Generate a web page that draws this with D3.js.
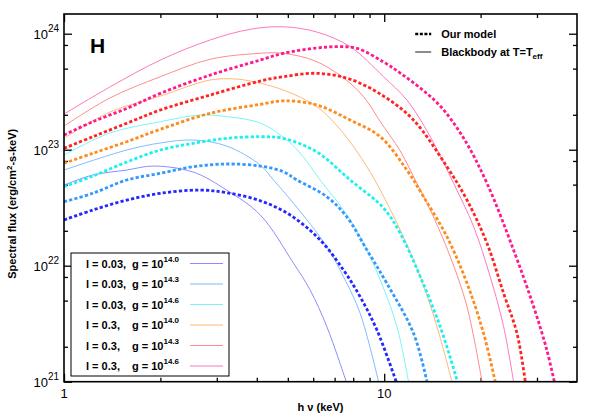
<!DOCTYPE html>
<html>
<head>
<meta charset="utf-8">
<script src="https://cdn.jsdelivr.net/npm/d3@7"></script>
<style>
  body { margin: 0; background: #fff; }
  svg { font-family: "Liberation Sans", Arial, sans-serif; }
  .frame { fill: none; stroke: #000; stroke-width: 1.6; }
  .axis path { display: none; }
  .axis line { stroke: #000; stroke-width: 1.3; }
  .bold { font-weight: bold; }
</style>
</head>
<body>
<script>
// values: [photon energy (keV), spectral flux]
var bb1 = [[1.00,4.96e22],[1.23,6.05e22],[1.57,6.68e22],[1.90,7.23e22],[2.53,6.42e22],[3.22,4.49e22],[4.10,2.74e22],[5.21,1.05e22],[5.87,6.17e21],[6.62,2.98e21],[7.61,1.0e21]];
var bb2 = [[1.00,6.68e22],[1.57,9.94e22],[2.00,1.143e23],[2.53,1.212e23],[3.22,1.076e23],[4.10,7.38e22],[4.51,5.48e22],[5.21,3.45e22],[6.62,1.458e22],[7.46,8.04e21],[8.41,3.89e21],[9.60,1.0e21]];
var bb3 = [[1.00,9.0e22],[1.39,1.393e23],[2.00,1.743e23],[2.66,1.99e23],[3.30,1.914e23],[4.10,1.70e23],[4.84,1.286e23],[5.46,9.37e22],[6.31,5.48e22],[7.46,3.02e22],[8.41,1.778e22],[9.72,7.53e21],[10.96,2.98e21],[11.91,1.0e21]];
var bb4 = [[1.00,1.254e23],[1.39,2.11e23],[2.00,2.90e23],[2.86,3.99e23],[3.42,4.07e23],[3.81,3.91e23],[4.84,3.27e23],[6.16,2.35e23],[7.46,1.384e23],[8.83,7.13e22],[9.72,4.49e22],[11.22,2.03e22],[12.96,8.04e21],[14.62,2.98e21],[16.28,1.0e21]];
var bb5 = [[1.00,1.60e23],[1.39,2.79e23],[2.00,4.26e23],[2.86,6.02e23],[4.10,6.78e23],[4.84,6.78e23],[6.16,5.74e23],[7.83,3.74e23],[8.83,2.63e23],[9.72,1.743e23],[11.22,9.75e22],[12.65,5.13e22],[13.93,3.02e22],[16.08,1.196e22],[18.14,4.43e21],[20.2,1.0e21]];
var bb6 = [[1.00,2.03e23],[1.39,3.47e23],[2.00,5.93e23],[2.86,8.83e23],[3.81,1.091e24],[4.84,1.148e24],[6.16,1.034e24],[7.83,7.73e23],[9.95,4.26e23],[11.77,2.68e23],[13.93,1.294e23],[16.47,5.13e22],[19.02,2.17e22],[21.43,8.04e21],[23.6,2.98e21],[25.35,1.0e21]];

var m1 = [[1.00,2.48e22],[1.23,3.02e22],[1.57,3.68e22],[2.00,4.21e22],[2.66,4.49e22],[3.22,4.26e22],[4.10,3.63e22],[5.08,2.74e22],[6.31,1.666e22],[7.46,9.18e21],[8.41,5.40e21],[9.49,2.79e21],[10.9,1.0e21]];
var m2 = [[1.00,3.56e22],[1.23,4.21e22],[1.57,5.48e22],[2.00,6.26e22],[2.53,7.13e22],[3.22,7.53e22],[4.10,7.23e22],[4.84,6.46e22],[5.34,5.48e22],[6.62,3.93e22],[7.64,2.64e22],[8.83,1.366e22],[10.19,7.05e21],[12.35,2.61e21],[13.60,1.0e21]];
var m3 = [[1.00,4.80e22],[1.23,5.93e22],[1.57,7.83e22],[2.00,9.94e22],[2.53,1.135e23],[3.22,1.254e23],[4.10,1.294e23],[4.84,1.254e23],[6.16,9.55e22],[7.83,5.48e22],[9.95,3.14e22],[11.22,1.90e22],[12.96,8.04e21],[14.96,2.98e21],[16.94,1.0e21]];
var m4 = [[1.00,7.64e22],[1.23,9.31e22],[1.57,1.172e23],[2.00,1.50e23],[2.86,2.06e23],[4.10,2.46e23],[4.84,2.64e23],[6.16,2.43e23],[7.83,1.80e23],[9.72,1.294e23],[11.77,6.68e22],[13.27,3.93e22],[15.70,1.778e22],[18.14,7.05e21],[20.43,2.61e21],[22.22,1.0e21]];
var m5 = [[1.00,1.028e23],[1.23,1.294e23],[1.57,1.689e23],[2.00,2.20e23],[2.86,2.96e23],[4.10,3.91e23],[4.84,4.26e23],[6.16,4.56e23],[7.83,4.05e23],[9.95,2.90e23],[12.35,1.80e23],[15.70,7.13e22],[18.14,3.68e22],[20.94,1.56e22],[23.6,5.78e21],[25.98,2.61e21],[27.58,1.0e21]];
var m6 = [[1.00,1.339e23],[1.23,1.743e23],[1.57,2.27e23],[2.00,3.06e23],[2.86,4.40e23],[4.10,5.93e23],[4.84,6.78e23],[6.16,7.53e23],[7.11,7.73e23],[8.22,7.48e23],[9.95,5.70e23],[11.22,4.58e23],[12.96,3.40e23],[14.96,2.38e23],[17.69,1.262e23],[20.94,5.13e22],[25.35,1.366e22],[29.29,4.43e21],[32.2,1.876e21],[33.98,1.0e21]];

var seriesLabel = ["l = 0.03,", "l = 0.03,", "l = 0.03,", "l = 0.3,", "l = 0.3,", "l = 0.3,"];
var seriesGexp = ["14.0", "14.3", "14.6", "14.0", "14.3", "14.6"];
var seriesColor = ["#2626ff", "#3399ff", "#1ef0f0", "#ff8a1e", "#ff2424", "#ff1a8c"];
var thinColor = ["#8c8cff", "#80bcff", "#7af5f5", "#ffb877", "#ff8c8c", "#ff78bc"];
var blackbodies = [bb1, bb2, bb3, bb4, bb5, bb6];
var models = [m1, m2, m3, m4, m5, m6];

var xMajor = [1, 10],
    xMinor = [2, 3, 4, 5, 6, 7, 8, 9, 20, 30],
    yMajor = [1e21, 1e22, 1e23, 1e24],
    yMinor = [2e21, 5e21, 8e21, 2e22, 5e22, 8e22, 2e23, 5e23, 8e23];
var yExp = ["21", "22", "23", "24"];

window.onload = function() {
    drawChart();
};

function drawChart() {
    var width = 598, height = 419;
    var margin = {top: 14, right: 21, bottom: 37.3, left: 64};
    var w = width - margin.left - margin.right,
        h = height - margin.top - margin.bottom;

    var svg = d3.select("body").append("svg")
        .attr("width", width)
        .attr("height", height);

    var x = d3.scaleLog().domain([1, 40]).range([0, w]);
    var y = d3.scaleLog().domain([1e21, Math.pow(10, 24.17)]).range([h, 0]);

    var g = svg.append("g").attr("transform", "translate(" + margin.left + "," + margin.top + ")");

    svg.append("defs").append("clipPath").attr("id", "clip")
        .append("rect").attr("width", w).attr("height", h);

    //ticks pointing inward on all four sides
    function tickAxis(axisFn, scale, values, size, tr) {
        g.append("g").attr("class", "axis")
            .attr("transform", tr)
            .call(axisFn(scale).tickValues(values).tickSize(size).tickFormat(""));
    }
    tickAxis(d3.axisBottom, x, xMajor, -8, "translate(0," + h + ")");
    tickAxis(d3.axisBottom, x, xMinor, -4, "translate(0," + h + ")");
    tickAxis(d3.axisTop, x, xMajor, -8, "translate(0,0)");
    tickAxis(d3.axisTop, x, xMinor, -4, "translate(0,0)");
    tickAxis(d3.axisLeft, y, yMajor, -8, "translate(0,0)");
    tickAxis(d3.axisLeft, y, yMinor, -4, "translate(0,0)");
    tickAxis(d3.axisRight, y, yMajor, -8, "translate(" + w + ",0)");
    tickAxis(d3.axisRight, y, yMinor, -4, "translate(" + w + ",0)");

    var line = d3.line()
        .x(function(d) { return x(d[0]); })
        .y(function(d) { return y(d[1]); })
        .curve(d3.curveCatmullRom.alpha(0.5));

    var plot = g.append("g").attr("clip-path", "url(#clip)");

    //blackbody curves, thin solid
    plot.selectAll(".bb")
        .data(blackbodies)
        .enter()
        .append("path")
        .attr("class", "bb")
        .attr("d", line)
        .attr("fill", "none")
        .attr("stroke", function(d, i) { return thinColor[i]; })
        .attr("stroke-width", 1);

    //model curves, thick dashed
    plot.selectAll(".model")
        .data(models)
        .enter()
        .append("path")
        .attr("class", "model")
        .attr("d", line)
        .attr("fill", "none")
        .attr("stroke", function(d, i) { return seriesColor[i]; })
        .attr("stroke-width", 2.8)
        .attr("stroke-dasharray", "3.2,2.2");

    g.append("rect").attr("class", "frame").attr("width", w).attr("height", h);

    //tick labels
    g.selectAll(".xlab")
        .data(xMajor)
        .enter()
        .append("text")
        .attr("x", function(d) { return x(d); })
        .attr("y", h + 16)
        .attr("text-anchor", "middle")
        .attr("font-size", 13)
        .text(function(d) { return d; });

    var ylab = g.selectAll(".ylab")
        .data(yMajor)
        .enter()
        .append("text")
        .attr("x", -5)
        .attr("y", function(d) { return y(d) + 5; })
        .attr("text-anchor", "end")
        .attr("font-size", 13);
    ylab.append("tspan").text("10");
    ylab.append("tspan").attr("dy", -7).attr("font-size", 10)
        .text(function(d, i) { return yExp[i]; });

    //axis titles
    svg.append("text")
        .attr("class", "bold")
        .attr("x", margin.left + w / 2)
        .attr("y", 411)
        .attr("text-anchor", "middle")
        .attr("font-size", 11)
        .text("h \u03bd (keV)");

    var yt = svg.append("text")
        .attr("class", "bold")
        .attr("transform", "translate(16," + (margin.top + h / 2 + 6) + ") rotate(-90)")
        .attr("text-anchor", "middle")
        .attr("font-size", 11);
    yt.append("tspan").text("Spectral flux (erg/cm");
    yt.append("tspan").attr("dy", -4).attr("font-size", 8).text("2");
    yt.append("tspan").attr("dy", 4).text("-s-keV)");

    //panel letter
    g.append("text")
        .attr("class", "bold")
        .attr("x", 26)
        .attr("y", 39)
        .attr("font-size", 21)
        .text("H");

    //top-right legend
    var lg = g.append("g").attr("transform", "translate(" + (x(10) + 31) + ",20)");
    lg.append("line").attr("x1", 0).attr("x2", 16).attr("y1", 0).attr("y2", 0)
        .attr("stroke", "#000").attr("stroke-width", 2.6).attr("stroke-dasharray", "3,1.6");
    lg.append("line").attr("x1", 0).attr("x2", 16).attr("y1", 18).attr("y2", 18)
        .attr("stroke", "#000").attr("stroke-width", 0.9);
    lg.append("text").attr("class", "bold").attr("x", 26).attr("y", 4)
        .attr("font-size", 11).text("Our model");
    var bt = lg.append("text").attr("class", "bold").attr("x", 26).attr("y", 22)
        .attr("font-size", 11);
    bt.append("tspan").text("Blackbody at T=T");
    bt.append("tspan").attr("dy", 3).attr("font-size", 8).text("eff");

    //bottom-left legend
    var leg = g.append("g").attr("transform", "translate(7,239)");
    leg.append("rect").attr("width", 158).attr("height", 123)
        .attr("fill", "#fff").attr("stroke", "#000").attr("stroke-width", 1);
    var rows = leg.selectAll(".row")
        .data(thinColor)
        .enter()
        .append("g")
        .attr("class", "row")
        .attr("transform", function(d, i) { return "translate(0," + (10.5 + i * 20.5) + ")"; });
    rows.append("line")
        .attr("x1", 119).attr("x2", 152).attr("y1", 0).attr("y2", 0)
        .attr("stroke", function(d) { return d; })
        .attr("stroke-width", 1.2);
    var rt = rows.append("text").attr("class", "bold").attr("font-size", 11).attr("y", 4);
    rt.append("tspan").attr("x", 15).text(function(d, i) { return seriesLabel[i]; });
    rt.append("tspan").attr("x", 61).text("g = 10");
    rt.append("tspan").attr("dy", -6).attr("font-size", 8)
        .text(function(d, i) { return seriesGexp[i]; });
}
</script>
</body>
</html>
